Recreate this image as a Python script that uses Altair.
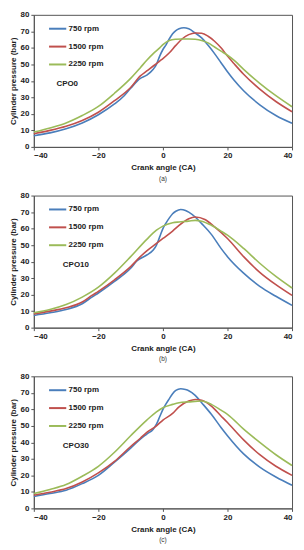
import altair as alt
import pandas as pd

# ---------------- data ----------------
speeds = ["750  rpm", "1500  rpm", "2250  rpm"]
colors = ["#4a7ebb", "#c0504d", "#9bbb59"]

# Panel (a) CPO0
a_750_x = [-40, -35, -30, -25, -20, -15, -12, -10, -7, -5, -3, -2, -1, 0, 1, 2, 3, 4, 5, 6.5, 8, 10, 12, 14, 16, 18, 20, 22, 25, 30, 35, 40]
a_750_y = [6.8, 8.5, 11, 14.5, 19.5, 26, 31, 35.5, 41.5, 43.5, 47, 50, 55, 59, 62, 65.5, 68.5, 70.5, 71.6, 72.2, 71.5, 69, 66, 61.5, 56.5, 51, 45.5, 40.5, 34, 25.5, 19, 14.3]
a_1500_x = [-40, -35, -30, -25, -20, -15, -10, -7, -5, -3, -1, 0, 2, 4, 6, 8, 10, 12, 14, 16, 18, 20, 22, 25, 30, 35, 40]
a_1500_y = [8, 10, 12.5, 16, 21, 28, 36, 43, 46, 49, 52, 53.5, 57, 61.5, 65.5, 68, 69, 68.8, 67, 64, 60, 55, 50.5, 44, 35, 27.5, 21.3]
a_2250_x = [-40, -35, -30, -25, -20, -15, -10, -7, -5, -3, -1, 0, 2, 4, 6, 8, 10, 12, 14, 16, 18, 20, 22, 25, 30, 35, 40]
a_2250_y = [9, 11.5, 14.5, 19, 24.5, 32.5, 41.5, 48, 52.5, 56.5, 60, 62, 64.5, 65.2, 65.4, 65.4, 65.2, 64.5, 63, 60.5, 58, 55.5, 52.5, 47, 38.5, 31, 24.3]

# Panel (b) CPO10
b_750_x = [-40, -35, -30, -25, -22, -20, -15, -10, -8, -5, -3, -2, -1, 0, 1, 2, 3, 4, 5.5, 7, 8, 10, 12, 15, 18, 20, 25, 30, 35, 40]
b_750_y = [7.4, 9, 11, 14.5, 18.5, 21, 28, 36, 40.5, 44, 47, 50, 55, 60, 63.5, 66.5, 69, 70.5, 71.6, 71, 70, 67, 63, 56.5, 48, 43, 33, 25, 19, 13.5]
b_1500_x = [-40, -35, -30, -25, -22, -20, -15, -10, -7, -5, -2, 0, 3, 5, 8, 10, 13, 16, 20, 25, 30, 35, 40]
b_1500_y = [8.3, 10, 12, 15.5, 19.5, 22, 29, 37, 43, 46.5, 51, 54, 58.5, 62, 66, 67, 65.5, 61, 54, 43, 33.5, 26, 19.5]
b_2250_x = [-40, -35, -30, -25, -20, -15, -10, -5, -2, 0, 3, 5, 8, 10, 12, 15, 18, 20, 25, 30, 35, 40]
b_2250_y = [9, 11, 14, 18.5, 24.5, 33, 43, 53.5, 59, 61.5, 63.5, 64, 64.5, 65, 64.5, 62, 58.5, 56, 48, 39, 31, 24]

# Panel (c) CPO30
c_750_x = [-40, -35, -30, -25, -20, -15, -10, -7, -5, -3, -2, -1, 0, 1, 2, 3, 4, 5.5, 7, 8, 10, 12, 15, 18, 20, 25, 30, 35, 40]
c_750_y = [7.2, 9, 11, 15, 20, 28, 36.5, 42, 45, 48, 51, 55.5, 60, 63.5, 66.5, 69.5, 71.5, 72.5, 72, 71.3, 68.5, 64, 57, 49, 44, 33, 25, 19, 14]
c_1500_x = [-40, -35, -30, -25, -20, -15, -10, -7, -5, -2, 0, 3, 5, 8, 10, 12, 15, 18, 20, 25, 30, 35, 40]
c_1500_y = [8, 9.8, 12, 16, 21.5, 28.5, 37.5, 42.5, 46, 50, 53.5, 57.5, 61.5, 65, 66, 65.5, 62, 56, 52, 41.5, 32.5, 25.5, 20]
c_2250_x = [-40, -35, -30, -25, -20, -15, -10, -5, -2, 0, 3, 5, 8, 12, 15, 18, 20, 25, 30, 35, 40]
c_2250_y = [9, 11.5, 14.5, 19.5, 25.5, 34, 44, 53.5, 58.5, 61, 63, 64, 64.5, 65, 63, 59.5, 57, 48, 40, 32.5, 26]

panel_names = ["CPO0", "CPO10", "CPO30"]
panel_captions = ["(a)", "(b)", "(c)"]
label_x = [-33, -31, -31]
label_y = [38, 38, 37.5]

x_ticks = [-40, -20, 0, 20, 40]
y_ticks = [0, 10, 20, 30, 40, 50, 60, 70, 80]

panels_data = [
    [(a_750_x, a_750_y), (a_1500_x, a_1500_y), (a_2250_x, a_2250_y)],
    [(b_750_x, b_750_y), (b_1500_x, b_1500_y), (b_2250_x, b_2250_y)],
    [(c_750_x, c_750_y), (c_1500_x, c_1500_y), (c_2250_x, c_2250_y)],
]

FONT = "Liberation Sans"
W, H = 260, 133


def make_panel(i):
    rows = []
    for k, (xs, ys) in enumerate(panels_data[i]):
        for j, (xv, yv) in enumerate(zip(xs, ys)):
            rows.append({"speed": speeds[k], "ca": xv, "p": yv, "order": j})
    df = pd.DataFrame(rows)

    lines = alt.Chart(df).mark_line(strokeWidth=1.6, interpolate="monotone").encode(
        x=alt.X("ca:Q", scale=alt.Scale(domain=[-40, 40], nice=False),
                axis=alt.Axis(values=x_ticks, title="Crank angle (CA)", format="d",
                              labelOverlap=False)),
        y=alt.Y("p:Q", scale=alt.Scale(domain=[0, 80], nice=False),
                axis=alt.Axis(values=y_ticks, title="Cylinder pressure (bar)",
                              labelOverlap=False, tickCount=9, format="d")),
        color=alt.Color("speed:N", scale=alt.Scale(domain=speeds, range=colors),
                        legend=alt.Legend(title=None, orient="none", legendX=14, legendY=4,
                                          symbolType="stroke", symbolSize=300,
                                          symbolStrokeWidth=2, rowPadding=4,
                                          labelFont=FONT, labelFontSize=8,
                                          labelFontWeight="bold", labelColor="#222",
                                          labelOffset=1)),
        detail="speed:N",
        order="order:Q",
    )

    lab = alt.Chart(pd.DataFrame({"x": [label_x[i]], "y": [label_y[i]], "t": [panel_names[i]]})).mark_text(
        align="left", baseline="middle", font=FONT, fontSize=8, fontWeight="bold", color="#222"
    ).encode(x="x:Q", y="y:Q", text="t:N")

    return alt.layer(lines, lab).properties(
        width=W, height=H,
        title=alt.TitleParams(panel_captions[i], orient="bottom", fontSize=6.5,
                              fontWeight="normal", font=FONT, color="#333", offset=4),
    )


chart = alt.vconcat(*[make_panel(i) for i in range(3)], spacing=8).resolve_scale(
    color="independent"
).resolve_legend(color="independent").configure(
    padding={"left": 0, "top": 0, "right": 0, "bottom": 0}
).configure_view(
    stroke="#555", strokeWidth=1
).configure_axis(
    grid=False, domainColor="#555", tickColor="#555", tickSize=3,
    labelFont=FONT, labelFontSize=8, labelFontWeight="bold", labelColor="#222",
    titleFont=FONT, titleFontSize=8, titleFontWeight="bold", titleColor="#222",
    labelPadding=2,
).configure_axisX(titlePadding=4).configure_axisY(titlePadding=3)

chart.save("out.html", embed_options={"renderer": "svg", "actions": False})
